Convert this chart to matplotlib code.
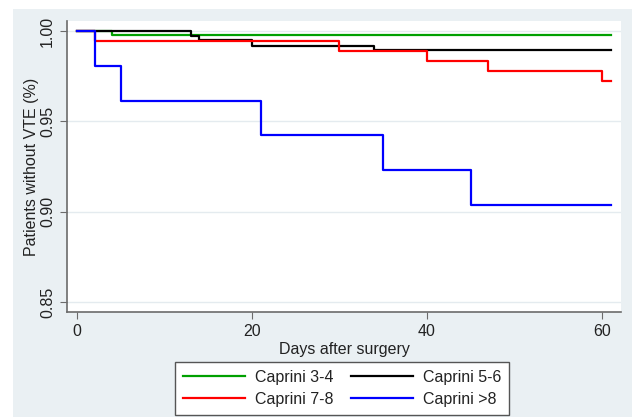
import matplotlib
matplotlib.use("Agg")
import matplotlib.pyplot as plt
from matplotlib.patches import Rectangle

plt.rcParams['font.family'] = ['Liberation Sans', 'DejaVu Sans']

# Kaplan-Meier step data (day of event, survival after event)
green_days = [0, 4, 61]
green_surv = [1.0, 0.998, 0.998]
black_days = [0, 13, 14, 20, 34, 61]
black_surv = [1.0, 0.9975, 0.995, 0.992, 0.9893, 0.9893]
red_days = [0, 2, 30, 40, 47, 60, 61]
red_surv = [1.0, 0.9944, 0.9889, 0.9833, 0.9778, 0.9722, 0.9722]
blue_days = [0, 2, 5, 21, 35, 45, 61]
blue_surv = [1.0, 0.9808, 0.9615, 0.9423, 0.9231, 0.9038, 0.9038]

labels = ["Caprini 3-4", "Caprini 5-6", "Caprini 7-8", "Caprini >8"]
colors = ["#00a000", "#000000", "#ff0000", "#0000ff"]
xticks = [0, 20, 40, 60]
yticks = [0.85, 0.90, 0.95, 1.00]

bg = "#eaf0f3"
fig = plt.figure(figsize=(6.36, 4.17), dpi=100)
fig.patch.set_facecolor("white")
fig.patches.append(Rectangle((13 / 636, 0), (632 - 13) / 636, 1 - 9 / 417,
                             transform=fig.transFigure, facecolor=bg,
                             edgecolor="none", zorder=-10))

ax = fig.add_axes([67 / 636, 1 - 312 / 417, (621 - 67) / 636, (312 - 21) / 417])
ax.set_facecolor("white")

series = [(green_days, green_surv), (black_days, black_surv),
          (red_days, red_surv), (blue_days, blue_surv)]
for (d, s), lab, c in zip(series, labels, colors):
    ax.step(d, s, where="post", color=c, lw=1.6, label=lab)

ax.set_xlim(-1.15, 62.2)
ax.set_ylim(0.8444, 1.0056)
ax.set_xticks(xticks)
ax.set_yticks(yticks)
ax.set_yticklabels([f"{v:.2f}" for v in yticks], rotation=90, va="center")
ax.yaxis.grid(True, color="#e4ebef", lw=1)
ax.set_axisbelow(True)

for side in ["top", "right"]:
    ax.spines[side].set_visible(False)
for side in ["left", "bottom"]:
    ax.spines[side].set_color("#6b6b6b")
    ax.spines[side].set_linewidth(1.2)
ax.tick_params(colors="#6b6b6b", labelcolor="#222222", labelsize=11.5, length=5)

ax.set_xlabel("Days after surgery", fontsize=11.5, color="#222222", labelpad=2)
ax.set_ylabel("Patients without VTE (%)", fontsize=11.5, color="#222222", labelpad=1)

handles, labs = ax.get_legend_handles_labels()
order = [0, 2, 1, 3]
leg = fig.legend([handles[i] for i in order], [labs[i] for i in order],
                 ncol=2, loc="lower left", bbox_to_anchor=(175 / 636, 2 / 417),
                 fontsize=11.5, frameon=True, fancybox=False, framealpha=1,
                 handlelength=3.9, columnspacing=1.1, labelspacing=0.45,
                 borderpad=0.5, handletextpad=0.6, borderaxespad=0)
leg.get_frame().set_edgecolor("#555555")
leg.get_frame().set_linewidth(1.0)
for t in leg.get_texts():
    t.set_color("#222222")

fig.savefig("out.png", dpi=100, facecolor=fig.get_facecolor())
